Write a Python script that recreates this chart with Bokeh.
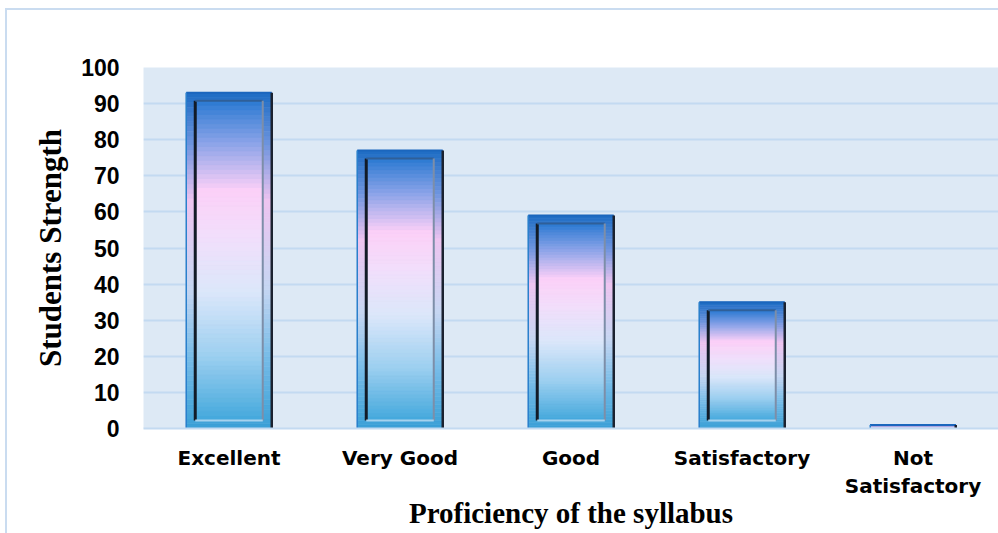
from bokeh.plotting import figure
from bokeh.models import Range1d, FixedTicker, ColumnDataSource
from bokeh.embed import file_html
from bokeh.resources import INLINE

# ---------------- data ----------------
categories = ["Excellent", "Very Good", "Good", "Satisfactory", "Not Satisfactory"]
tick_labels = ["Excellent", "Very Good", "Good", "Satisfactory", "Not\nSatisfactory"]
students = [93, 77, 59, 35, 1]
y_ticks = list(range(0, 101, 10))
x_title = "Proficiency of the syllabus"
y_title = "Students Strength"

# ---------------- layout / style ----------------
W, H = 998, 533
ML, MR, MT, MB = 143, 0, 67, 105
frame_w = W - ML - MR
frame_h = H - MT - MB
px_x = frame_w / len(categories)      # pixels per category unit
px_y = frame_h / 100.0                # pixels per value unit
BAR_W = 0.5
INSET_X = 9 / px_x
INSET_Y = 8 / px_y
N_SLICES = 70

outer_stops = [(0.0, "#3a9fd6"), (0.22, "#79bde8"), (0.42, "#c6d6f2"),
               (0.68, "#eec4f0"), (0.85, "#6b93dd"), (1.0, "#1d6cc4")]
inner_stops = [(0.0, "#43a8dc"), (0.2, "#9ccff0"), (0.4, "#dbe7fa"),
               (0.57, "#f1dffb"), (0.72, "#fcd0f8"), (0.87, "#8aa3e8"), (1.0, "#2b7ad2")]


def hex2rgb(h):
    h = h.lstrip("#")
    return tuple(int(h[i:i + 2], 16) for i in (0, 2, 4))


def interp(stops, f):
    for (f0, c0), (f1, c1) in zip(stops[:-1], stops[1:]):
        if f0 <= f <= f1:
            t = 0 if f1 == f0 else (f - f0) / (f1 - f0)
            a, b = hex2rgb(c0), hex2rgb(c1)
            return "#%02x%02x%02x" % tuple(int(round(a[k] + (b[k] - a[k]) * t)) for k in range(3))
    return stops[-1][1]


def slices(xs, bottoms, tops, width, stops):
    d = dict(x=[], bottom=[], top=[], color=[])
    for x, b0, t0 in zip(xs, bottoms, tops):
        if t0 <= b0:
            continue
        step = (t0 - b0) / N_SLICES
        for k in range(N_SLICES):
            d["x"].append(x)
            d["bottom"].append(b0 + k * step)
            d["top"].append(b0 + (k + 1) * step)
            d["color"].append(interp(stops, (k + 0.5) / N_SLICES))
    d["width"] = [width] * len(d["x"])
    return ColumnDataSource(d)


xs = [i + 1 for i in range(len(categories))]

p = figure(width=W, height=H, output_backend="svg", toolbar_location=None,
           x_range=Range1d(0.5, len(categories) + 0.5), y_range=Range1d(0, 100),
           min_border_left=ML, min_border_right=MR, min_border_top=MT, min_border_bottom=MB,
           background_fill_color="#dde9f5", border_fill_color=None,
           outline_line_color=None)
p.styles = {"background": "linear-gradient(#cadcf0,#cadcf0) 5px 8px / 2px 100% no-repeat, "
                          "linear-gradient(#cadcf0,#cadcf0) 5px 8px / 100% 2px no-repeat, #ffffff"}

# grid
p.xgrid.grid_line_color = None
p.ygrid.ticker = FixedTicker(ticks=y_ticks)
p.ygrid.grid_line_color = "#c3daf1"
p.ygrid.grid_line_width = 2

# outer bars (gradient)
src_out = slices(xs, [0] * len(xs), students, BAR_W, outer_stops)
p.vbar(x="x", bottom="bottom", top="top", width="width", source=src_out,
       fill_color="color", line_color="color", line_width=0.6)

# inner panels (lighter gradient)
big = [(x, v) for x, v in zip(xs, students) if v * px_y > 24]
ix = [b[0] for b in big]
ib = [INSET_Y] * len(big)
it = [b[1] - INSET_Y for b in big]
src_in = slices(ix, ib, it, BAR_W - 2 * INSET_X, inner_stops)
p.vbar(x="x", bottom="bottom", top="top", width="width", source=src_in,
       fill_color="color", line_color="color", line_width=0.6)

# bevel edges
hw = BAR_W / 2
iw = hw - INSET_X
p.segment(x0=[x - hw for x in xs], y0=students, x1=[x + hw for x in xs], y1=students,
          line_color="#1b66bd", line_width=2)
p.segment(x0=[x - hw for x in xs], y0=[0] * len(xs), x1=[x - hw for x in xs], y1=students,
          line_color="#2a80cc", line_width=1.5)
p.segment(x0=[x + hw for x in xs], y0=[0] * len(xs), x1=[x + hw for x in xs], y1=students,
          line_color="#1b2230", line_width=2.5)
p.segment(x0=[x - iw for x in ix], y0=ib, x1=[x - iw for x in ix], y1=it,
          line_color="#121b27", line_width=3)
p.segment(x0=[x - iw for x in ix], y0=it, x1=[x + iw for x in ix], y1=it,
          line_color="#2f5f98", line_width=2)
p.segment(x0=[x + iw for x in ix], y0=ib, x1=[x + iw for x in ix], y1=it,
          line_color="#7d8ea8", line_width=2)
p.segment(x0=[x - iw for x in ix], y0=ib, x1=[x + iw for x in ix], y1=ib,
          line_color="#a6d2ee", line_width=2)

# axes
p.xaxis.ticker = FixedTicker(ticks=xs)
p.xaxis.major_label_overrides = {x: lab for x, lab in zip(xs, tick_labels)}
p.yaxis.ticker = FixedTicker(ticks=y_ticks)
for ax in (p.xaxis[0], p.yaxis[0]):
    ax.major_tick_line_color = None
    ax.minor_tick_line_color = None
    ax.major_label_text_font_style = "bold"
    ax.major_label_text_color = "black"
    ax.axis_label_text_font = "Liberation Serif"
    ax.axis_label_text_font_style = "bold"
    ax.axis_label_text_color = "black"
p.xaxis.axis_line_color = "#c3daf1"
p.xaxis.axis_line_width = 2
p.yaxis.axis_line_color = None

p.xaxis.major_label_text_font = "DejaVu Sans"
p.xaxis.major_label_text_font_size = "20px"
p.xaxis.major_label_standoff = 11
p.xaxis.axis_label = x_title
p.xaxis.axis_label_text_font_size = "29px"
p.xaxis.axis_label_standoff = -4

p.yaxis.major_label_text_font = "Liberation Sans"
p.yaxis.major_label_text_font_size = "23px"
p.yaxis.major_label_standoff = 18
p.yaxis.axis_label = y_title
p.yaxis.axis_label_text_font_size = "31px"
p.yaxis.axis_label_standoff = 10

open("out.html", "w").write(file_html(p, INLINE))
